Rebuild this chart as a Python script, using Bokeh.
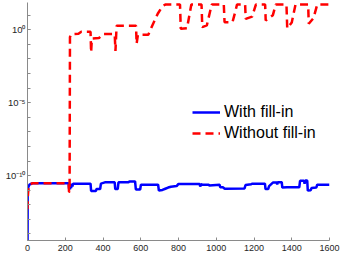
from bokeh.plotting import figure
from bokeh.models import FixedTicker, CustomJSTickFormatter, Legend, LegendItem, ColumnDataSource
from bokeh.embed import file_html
from bokeh.resources import INLINE

# ---- data (y values given as log10 exponents) ----
blue_iter = [0, 1, 4, 10, 25, 218, 220, 222, 225, 228, 231, 234, 238, 241, 334, 337, 362, 366,
             385, 389, 410, 462, 465, 478, 482, 535, 540, 570, 574, 597, 601, 692, 696, 715,
             730, 745, 760, 790, 800, 912, 915, 920, 925, 960, 963, 1018, 1021, 1035, 1045,
             1150, 1155, 1185, 1190, 1258, 1261, 1275, 1280, 1300, 1320, 1323, 1326, 1347,
             1350, 1375, 1440, 1444, 1465, 1468, 1472, 1482, 1485, 1500, 1505, 1530, 1535, 1600]
blue_exp = [-16.0, -11.2, -10.8, -10.62, -10.53, -10.53, -10.9, -10.6, -10.95, -10.6, -10.85,
            -10.55, -10.75, -10.55, -10.55, -11.05, -11.05, -10.92, -10.92, -10.55, -10.46,
            -10.46, -10.92, -10.92, -10.46, -10.46, -10.40, -10.40, -10.95, -10.95, -10.62,
            -10.62, -11.02, -10.98, -10.90, -10.82, -10.76, -10.72, -10.57, -10.57, -10.75,
            -10.57, -10.62, -10.62, -10.68, -10.62, -10.80, -10.80, -10.90, -10.88, -10.65,
            -10.60, -10.55, -10.55, -10.92, -10.92, -10.72, -10.48, -10.48, -10.60, -10.45,
            -10.45, -10.82, -10.80, -10.80, -10.36, -10.36, -10.55, -10.34, -10.34, -11.03,
            -11.0, -10.85, -10.82, -10.62, -10.62]

red_iter = [0, 2, 5, 12, 25, 218, 220, 223, 225, 232, 270, 285, 334, 337, 341, 378, 400, 462,
            466, 472, 575, 578, 585, 640, 665, 690, 715, 730, 808, 812, 845, 868, 922, 926,
            950, 976, 1040, 1044, 1086, 1100, 1110, 1153, 1156, 1190, 1210, 1259, 1262, 1300,
            1315, 1372, 1376, 1400, 1420, 1487, 1490, 1515, 1535, 1600]
red_exp = [-12.3, -11.4, -10.9, -10.6, -10.53, -10.53, -11.1, -11.1, -0.5, -0.3, -0.28, -0.14,
           -0.14, -1.55, -0.6, -0.57, -0.29, -0.29, -1.45, 0.27, 0.28, -0.96, -0.34, -0.34,
           0.4, 1.1, 1.62, 1.73, 1.73, 0.07, 0.1, 1.73, 1.73, 0.18, 0.3, 1.73, 1.73, 0.52,
           0.52, 1.2, 1.73, 1.73, 0.75, 0.9, 1.73, 1.73, 0.64, 1.0, 1.73, 1.73, 0.1, 0.5,
           1.73, 1.73, 0.41, 0.8, 1.73, 1.73]

x_ticks = [0, 200, 400, 600, 800, 1000, 1200, 1400, 1600]
y_major_exp = [-10, -5, 0]
y_minor_exp = list(range(-14, 2))
series_labels = ["With fill-in", "Without fill-in"]

blue_src = ColumnDataSource(dict(x=blue_iter, y=[10.0 ** e for e in blue_exp]))
red_src = ColumnDataSource(dict(x=red_iter, y=[10.0 ** e for e in red_exp]))

p = figure(width=341, height=257, x_range=(0, 1600), y_range=(10 ** -14.45, 10 ** 1.87),
           y_axis_type="log", output_backend="svg", toolbar_location=None,
           min_border_left=27, min_border_right=12, min_border_top=2, min_border_bottom=17)
p.outline_line_color = None
p.xgrid.grid_line_color = None
p.ygrid.grid_line_color = None

r_blue = p.line("x", "y", source=blue_src, line_color="#0000FF", line_width=2.5)
r_red = p.line("x", "y", source=red_src, line_color="#FF0000", line_width=2.5, line_dash="8 5")

# axes
axis_col = "#8a8a8a"
label_col = "#262626"
for ax in (p.xaxis[0], p.yaxis[0]):
    ax.axis_line_color = axis_col
    ax.major_tick_line_color = axis_col
    ax.minor_tick_line_color = axis_col
    ax.major_tick_in = 3
    ax.major_tick_out = 0
    ax.minor_tick_in = 3
    ax.minor_tick_out = 0
    ax.major_label_text_color = label_col
    ax.major_label_text_font = "Liberation Sans"
    ax.major_label_text_font_size = "9px"

p.xaxis.ticker = FixedTicker(ticks=x_ticks)
p.xaxis.minor_tick_line_color = None
p.xaxis.major_label_standoff = 4

p.yaxis.ticker = FixedTicker(ticks=[10.0 ** e for e in y_major_exp],
                             minor_ticks=[10.0 ** e for e in y_minor_exp])
p.yaxis.major_label_standoff = 2
p.yaxis.major_label_text_font_size = "9.5px"
p.yaxis.formatter = CustomJSTickFormatter(code="""
const sup = {'-':'\u207b','0':'\u2070','1':'\u00b9','2':'\u00b2','3':'\u00b3','4':'\u2074',
             '5':'\u2075','6':'\u2076','7':'\u2077','8':'\u2078','9':'\u2079'};
const e = String(Math.round(Math.log10(tick)));
let s = '';
for (const c of e) s += sup[c];
return '10' + s;
""")

legend = Legend(items=[LegendItem(label=series_labels[0], renderers=[r_blue]),
                       LegendItem(label=series_labels[1], renderers=[r_red])],
                location=(165, 97))
legend.background_fill_alpha = 0
legend.border_line_alpha = 0
legend.padding = 0
legend.margin = 0
legend.spacing = 1
legend.glyph_width = 28
legend.glyph_height = 20
legend.label_height = 20
legend.label_standoff = 4
legend.label_text_font = "Liberation Sans"
legend.label_text_font_size = "16px"
legend.label_text_color = "#000000"
p.add_layout(legend)

open("out.html", "w").write(file_html(p, INLINE))
